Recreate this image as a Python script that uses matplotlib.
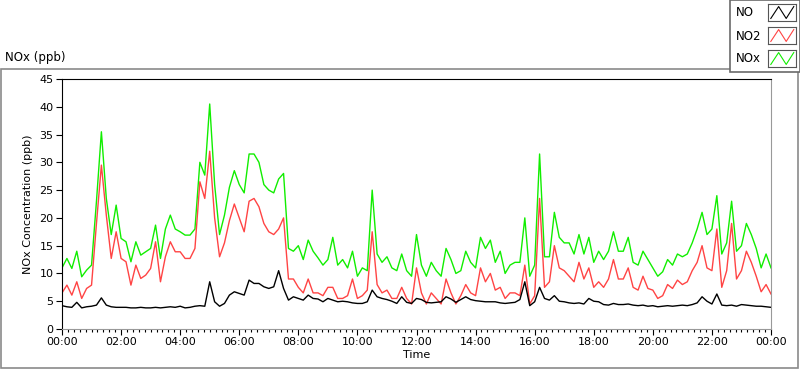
import numpy as np
import matplotlib
matplotlib.use('Agg')
import matplotlib.pyplot as plt
from matplotlib.patches import Rectangle
from matplotlib.ticker import MultipleLocator, FuncFormatter

# readings every 10 minutes, 00:00 -> 24:00 (ppb)
minutes = np.arange(0, 1441, 10)

no = [4.2, 4.0, 3.9, 4.8, 3.8, 4.0, 4.1, 4.3, 5.6, 4.3,
      4.0, 3.9, 3.9, 3.9, 3.8, 3.8, 3.9, 3.8, 3.8, 3.9,
      3.8, 3.9, 4.0, 3.9, 4.1, 3.8, 3.9, 4.1, 4.2, 4.1,
      8.5, 4.9, 4.1, 4.6, 6.1, 6.7, 6.4, 6.1, 8.8, 8.2,
      8.2, 7.6, 7.3, 7.6, 10.5, 7.3, 5.2, 5.8, 5.5, 5.2,
      6.1, 5.5, 5.4, 4.9, 5.5, 5.2, 4.9, 5.0, 4.9, 4.7,
      4.6, 4.6, 4.9, 7.0, 5.8, 5.5, 5.3, 5.0, 4.6, 5.8,
      4.8, 4.6, 5.5, 5.3, 4.8, 4.7, 4.8, 4.9, 5.8, 5.4,
      4.8, 5.3, 5.8, 5.3, 5.1, 5.0, 4.9, 4.9, 4.9, 4.7,
      4.6, 4.7, 4.8, 5.3, 8.5, 4.2, 4.9, 7.5, 5.5, 5.2,
      6.0, 5.0, 4.9, 4.7, 4.6, 4.7, 4.5, 5.5, 5.0, 4.9,
      4.4, 4.3, 4.6, 4.4, 4.4, 4.5, 4.3, 4.2, 4.3, 4.1,
      4.2, 4.0, 4.1, 4.2, 4.1, 4.2, 4.3, 4.2, 4.4, 4.7,
      5.8, 5.0, 4.5, 6.3, 4.3, 4.2, 4.3, 4.1, 4.4, 4.3,
      4.2, 4.1, 4.1, 4.0, 3.9]

no2 = [6.5, 7.9, 6.1, 8.5, 5.5, 7.3, 7.9, 19.0, 29.5, 20.5,
       12.7, 17.5, 12.7, 12.1, 7.9, 11.5, 9.1, 9.7, 10.9, 15.7,
       8.5, 13.0, 15.7, 13.9, 13.9, 12.7, 12.7, 14.5, 26.5, 23.5,
       32.0, 20.0, 13.0, 15.5, 19.5, 22.5, 20.0, 17.5, 23.0, 23.5,
       22.0, 19.0, 17.5, 17.0, 18.0, 20.0, 9.0, 9.0, 7.5, 6.5,
       9.0, 6.5, 6.5, 6.0, 7.5, 7.5, 5.5, 5.5, 6.0, 9.0,
       5.5, 6.0, 7.0, 17.5, 8.0, 6.5, 7.0, 5.5, 5.5, 7.5,
       5.5, 4.5, 11.0, 6.5, 4.5, 6.5, 5.5, 4.5, 9.0, 6.5,
       4.5, 6.0, 8.0, 6.5, 6.0, 11.0, 8.5, 10.0, 7.0, 7.5,
       5.5, 6.5, 6.5, 6.0, 11.5, 4.5, 6.0, 23.5, 7.5, 8.5,
       15.0, 11.0, 10.5, 9.5, 8.5, 12.0, 9.0, 11.0, 7.5, 8.5,
       7.5, 9.0, 12.5, 9.0, 9.0, 11.0, 7.5, 7.0, 9.5, 7.3,
       7.0, 5.5, 6.0, 8.0, 7.3, 8.8, 8.0, 8.5, 10.5, 12.0,
       15.0, 11.0, 10.5, 18.0, 7.5, 10.5, 19.0, 9.0, 10.5, 14.0,
       12.0, 9.5, 6.7, 8.0, 6.3]

nox = [11.0, 12.7, 10.9, 14.0, 9.4, 10.6, 11.5, 23.0, 35.5, 23.5,
       17.0, 22.3, 16.3, 15.7, 12.1, 15.7, 13.3, 13.9, 14.5, 18.7,
       12.7, 18.0, 20.5, 18.0, 17.5, 16.9, 16.9, 18.0, 30.0, 27.7,
       40.5, 26.0, 17.0, 20.5, 25.5, 28.5, 26.0, 24.5, 31.5, 31.5,
       30.0, 26.0, 25.0, 24.5, 27.0, 28.0, 14.5, 14.0, 15.0, 12.5,
       16.0, 14.0, 12.8, 11.5, 12.5, 16.5, 11.5, 12.5, 11.0, 14.0,
       9.5, 11.0, 10.5, 25.0, 13.5, 12.0, 13.0, 11.0, 10.5, 13.5,
       10.5, 9.5, 17.0, 11.5, 9.5, 12.0, 10.5, 9.5, 14.5, 12.5,
       10.0, 10.5, 14.0, 12.0, 11.0, 16.5, 14.5, 16.0, 12.0, 14.0,
       10.0, 11.5, 12.0, 12.0, 20.0, 9.5, 11.5, 31.5, 13.0, 13.0,
       21.0, 16.5, 15.5, 15.5, 13.5, 17.0, 13.5, 16.5, 12.0, 14.0,
       12.5, 14.0, 17.5, 14.0, 14.0, 16.5, 12.0, 11.5, 14.0, 12.5,
       11.0, 9.5, 10.3, 12.5, 11.5, 13.5, 13.0, 13.5, 15.5, 18.0,
       21.0, 17.0, 18.0, 24.0, 13.5, 15.5, 23.0, 14.0, 15.0, 19.0,
       17.0, 14.5, 11.0, 13.5, 11.0]

series_names = ['NO', 'NO2', 'NOx']
colors = ['black', '#ff4444', '#11ee00']

W, H = 800, 369
fig = plt.figure(figsize=(W / 100, H / 100), dpi=100)

# outer gray frame of the graph panel
fig.patches.append(Rectangle((1 / W, 1 - 368 / H), 797 / W, 299 / H, transform=fig.transFigure,
                             fill=False, edgecolor='#8a8a8a', linewidth=1.2, zorder=0))
fig.text(5 / W, 1 - 58 / H, 'NOx (ppb)', fontsize=8.5, va='center', ha='left')

ax = fig.add_axes([62 / W, 1 - 329 / H, 709 / W, 250 / H])
hours = minutes / 60.0
ax.plot(hours, nox, color=colors[2], linewidth=1)
ax.plot(hours, no2, color=colors[1], linewidth=1)
ax.plot(hours, no, color=colors[0], linewidth=1)

ax.set_xlim(0, 24)
ax.set_ylim(0, 45)
ax.xaxis.set_major_locator(MultipleLocator(2))
ax.xaxis.set_minor_locator(MultipleLocator(0.2))
ax.xaxis.set_major_formatter(FuncFormatter(lambda v, p: '%02d:00' % (int(round(v)) % 24)))
ax.yaxis.set_major_locator(MultipleLocator(5))
ax.tick_params(axis='both', which='major', labelsize=8, length=4, width=0.8, pad=2)
ax.tick_params(axis='x', which='minor', length=2.5, width=0.8)
ax.spines['top'].set_color('black')
ax.spines['left'].set_color('black')
ax.spines['bottom'].set_color('#999999')
ax.spines['right'].set_color('#999999')
ax.set_xlabel('Time', fontsize=8, labelpad=2)
ax.set_ylabel('NOx Concentration (ppb)', fontsize=8)
ax.yaxis.set_label_coords(-0.041, 0.5)

# legend box top right
fig.patches.append(Rectangle((730 / W, 1 - 72 / H), 70 / W, 72 / H, transform=fig.transFigure,
                             facecolor='white', edgecolor='#6a6a6a', linewidth=1.2, zorder=5))
label_y = [13, 36, 59]
box_top = [4, 27, 50]
for name, col, ly, bt in zip(series_names, colors, label_y, box_top):
    fig.text(736 / W, 1 - ly / H, name, fontsize=8.5, va='center', ha='left', zorder=6)
    sw = fig.add_axes([768 / W, 1 - (bt + 17) / H, 28 / W, 17 / H])
    sw.set_zorder(10)
    sw.plot([0.1, 0.38, 0.65, 0.92], [0.15, 0.85, 0.15, 0.85], color=col, linewidth=0.8)
    sw.set_xlim(0, 1)
    sw.set_ylim(0, 1)
    sw.set_xticks([])
    sw.set_yticks([])
    for s in sw.spines.values():
        s.set_color('#555555')
        s.set_linewidth(0.8)

plt.savefig('out.png', dpi=100)
